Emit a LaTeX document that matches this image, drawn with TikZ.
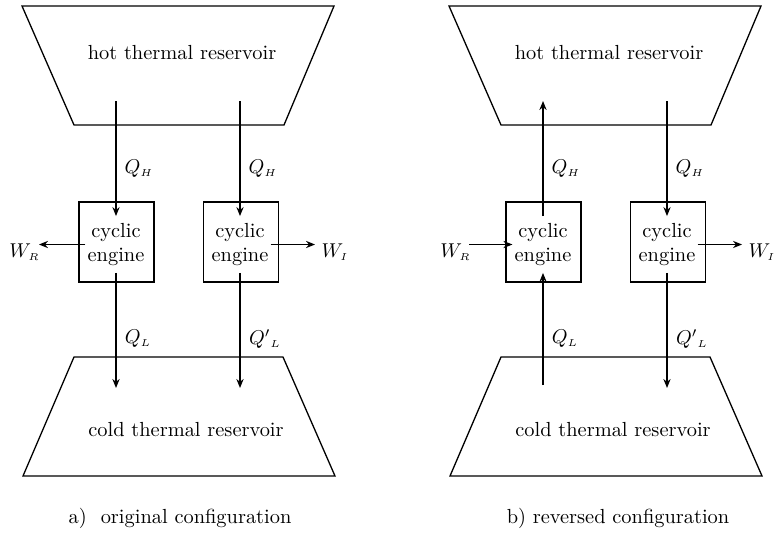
\documentclass[tikz,border=0pt]{standalone}
\usetikzlibrary{arrows.meta}
\begin{document}
\begin{tikzpicture}[x=0.5pt,y=-0.5pt,
  line width=0.65pt,
  font=\fontsize{10.2pt}{12.2pt}\selectfont,
  res/.style={draw, line join=miter},
  box/.style={draw, minimum width=37.5pt, minimum height=40pt, inner sep=0pt},
  eng/.style={align=center, inner xsep=0.8pt, inner ysep=3.2pt},
  flow/.style={-{Stealth[length=4.5pt,width=3.6pt]}},
  lbl/.style={inner sep=0pt}
]
\useasboundingbox (0,0) rectangle (774,535);

% ---------------- panel a ----------------
\draw[res] (22,6) -- (334,6) -- (284,125) -- (74,125) -- cycle;
\node (hot1) at (182,53) {hot thermal reservoir};
\draw[res] (74,357) -- (283,357) -- (335,476) -- (23,476) -- cycle;
\node (cold1) at (186,430) {cold thermal reservoir};

\node[box] (b1) at (116.5,242) {};
\node[eng] (e1) at (116,244.5) {cyclic\\engine};
\node[box] (b2) at (241,242) {};
\node[eng] (e2) at (240,244.5) {cyclic\\engine};

\coordinate (h1) at (116,101);
\coordinate (h2) at (240,101);
\coordinate (c1) at (116,388);
\coordinate (c2) at (240,388);
\coordinate (w1) at (39,244.5);
\coordinate (w2) at (315,244.5);

\draw[flow] (h1) -- (e1);
\draw[flow] (h2) -- (e2);
\draw[flow] (e1) -- (c1);
\draw[flow] (e2) -- (c2);
\draw[flow] (e1) -- (w1);
\draw[flow] (e2) -- (w2);

\node[lbl] (qh1) at (139,169) {$Q_{\scriptscriptstyle H}$};
\node[lbl] (qh2) at (263,169) {$Q_{\scriptscriptstyle H}$};
\node[lbl] (ql1) at (138,339) {$Q_{\scriptscriptstyle L}$};
\node[lbl] (ql2) at (265,339) {$Q\mathrm{'}_{\scriptscriptstyle L}$};
\node[lbl] (wr1) at (24.5,252) {$W_{\scriptscriptstyle R}$};
\node[lbl] (wi1) at (335,252) {$W_{\scriptscriptstyle I}$};

\node (capa) at (180,518) {a)\hspace{7pt}original configuration};

% ---------------- panel b ----------------
\draw[res] (449,6) -- (761,6) -- (711,125) -- (501,125) -- cycle;
\node (hot2) at (609,53) {hot thermal reservoir};
\draw[res] (501,357) -- (710,357) -- (762,476) -- (450,476) -- cycle;
\node (cold2) at (613,430) {cold thermal reservoir};

\node[box] (b3) at (543.5,242) {};
\node[eng] (e3) at (543,244.5) {cyclic\\engine};
\node[box] (b4) at (668,242) {};
\node[eng] (e4) at (667,244.5) {cyclic\\engine};

\coordinate (h3) at (543,101);
\coordinate (h4) at (667,101);
\coordinate (c3) at (543,385);
\coordinate (c4) at (667,388);
\coordinate (w3) at (469,244.5);
\coordinate (w4) at (742,244.5);

\draw[flow] (e3) -- (h3);
\draw[flow] (h4) -- (e4);
\draw[flow] (c3) -- (e3);
\draw[flow] (e4) -- (c4);
\draw[flow] (w3) -- (e3);
\draw[flow] (e4) -- (w4);

\node[lbl] (qh3) at (566,169) {$Q_{\scriptscriptstyle H}$};
\node[lbl] (qh4) at (690,169) {$Q_{\scriptscriptstyle H}$};
\node[lbl] (ql3) at (565,339) {$Q_{\scriptscriptstyle L}$};
\node[lbl] (ql4) at (692,339) {$Q\mathrm{'}_{\scriptscriptstyle L}$};
\node[lbl] (wr3) at (455.5,252) {$W_{\scriptscriptstyle R}$};
\node[lbl] (wi4) at (762,252) {$W_{\scriptscriptstyle I}$};

\node (capb) at (618,518) {b) reversed configuration};
\end{tikzpicture}
\end{document}
